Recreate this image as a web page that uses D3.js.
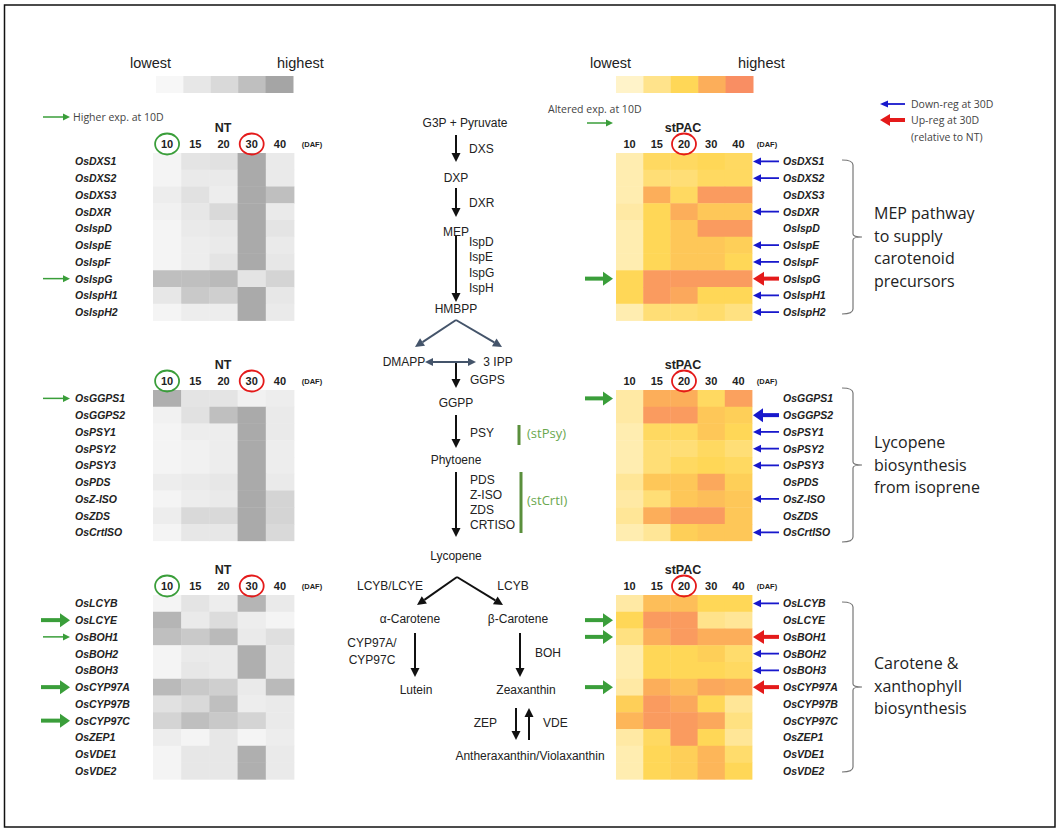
<!DOCTYPE html>
<html>
<head>
<meta charset="utf-8">
<script src="https://cdn.jsdelivr.net/npm/d3@7"></script>
<style>
  body { margin: 0; background: #fff; }
  text { font-family: "Liberation Sans", Arial, sans-serif; fill: #222; }
  .gene { font-size: 10.5px; font-weight: bold; font-style: italic; }
  .hdr { font-size: 11px; font-weight: bold; }
  .ttl { font-size: 12.5px; font-weight: bold; }
  .daf { font-size: 7.5px; font-weight: bold; }
  .note { font-family: "Open Sans", sans-serif; font-size: 10.5px; fill: #444; }
  .grp { font-family: "Open Sans", sans-serif; font-size: 16px; fill: #222; }
  .pw { font-size: 12px; }
  .leg { font-size: 14.5px; }
  .st { font-family: "Open Sans", sans-serif; font-size: 13px; fill: #6aa84f; }
</style>
</head>
<body>
<div id="fig"></div>
<script>
// ---- data ----
var daf = ["10", "15", "20", "30", "40"];
var legendLevels = [0, 0.25, 0.5, 0.75, 1];

var genesMEP = ["OsDXS1", "OsDXS2", "OsDXS3", "OsDXR", "OsIspD", "OsIspE", "OsIspF", "OsIspG", "OsIspH1", "OsIspH2"];
var genesLyc = ["OsGGPS1", "OsGGPS2", "OsPSY1", "OsPSY2", "OsPSY3", "OsPDS", "OsZ-ISO", "OsZDS", "OsCrtISO"];
var genesCar = ["OsLCYB", "OsLCYE", "OsBOH1", "OsBOH2", "OsBOH3", "OsCYP97A", "OsCYP97B", "OsCYP97C", "OsZEP1", "OsVDE1", "OsVDE2"];

// relative expression (0 lowest .. 1 highest), columns = 10,15,20,30,40 DAF
var ntMEP = [
  [0.05, 0.30, 0.35, 0.95, 0.20],
  [0.05, 0.20, 0.20, 0.95, 0.20],
  [0.15, 0.35, 0.15, 0.95, 0.75],
  [0.10, 0.25, 0.50, 0.95, 0.20],
  [0.05, 0.20, 0.25, 0.95, 0.30],
  [0.05, 0.15, 0.20, 0.95, 0.20],
  [0.05, 0.15, 0.30, 0.95, 0.25],
  [0.75, 0.75, 0.80, 0.30, 0.55],
  [0.25, 0.65, 0.60, 0.95, 0.25],
  [0.05, 0.15, 0.15, 0.95, 0.20]
];
var ntLyc = [
  [0.90, 0.30, 0.30, 0.10, 0.15],
  [0.10, 0.35, 0.75, 0.95, 0.20],
  [0.05, 0.15, 0.15, 0.95, 0.20],
  [0.05, 0.10, 0.15, 0.95, 0.15],
  [0.05, 0.10, 0.15, 0.95, 0.15],
  [0.15, 0.20, 0.25, 0.95, 0.20],
  [0.05, 0.15, 0.20, 0.95, 0.55],
  [0.15, 0.50, 0.50, 0.95, 0.55],
  [0.05, 0.25, 0.25, 0.95, 0.50]
];
var ntCar = [
  [0.05, 0.30, 0.15, 0.85, 0.20],
  [0.85, 0.20, 0.45, 0.15, 0.05],
  [0.75, 0.65, 0.80, 0.20, 0.40],
  [0.05, 0.20, 0.20, 0.90, 0.25],
  [0.05, 0.25, 0.20, 0.90, 0.25],
  [0.80, 0.65, 0.60, 0.20, 0.80],
  [0.35, 0.50, 0.75, 0.15, 0.20],
  [0.55, 0.75, 0.65, 0.55, 0.20],
  [0.15, 0.05, 0.25, 0.05, 0.15],
  [0.05, 0.25, 0.25, 0.90, 0.20],
  [0.05, 0.25, 0.25, 0.90, 0.20]
];
var stMEP = [
  [0.10, 0.45, 0.45, 0.50, 0.45],
  [0.10, 0.35, 0.35, 0.45, 0.45],
  [0.10, 0.75, 0.45, 0.90, 0.90],
  [0.15, 0.50, 0.75, 0.60, 0.60],
  [0.10, 0.50, 0.60, 0.90, 0.90],
  [0.10, 0.50, 0.60, 0.60, 0.55],
  [0.10, 0.50, 0.60, 0.60, 0.50],
  [0.50, 0.90, 0.90, 0.90, 0.90],
  [0.50, 0.90, 0.80, 0.50, 0.50],
  [0.10, 0.35, 0.35, 0.40, 0.30]
];
var stLyc = [
  [0.15, 0.75, 0.75, 0.45, 0.85],
  [0.15, 0.90, 0.90, 0.60, 0.55],
  [0.10, 0.45, 0.45, 0.60, 0.50],
  [0.10, 0.35, 0.35, 0.45, 0.35],
  [0.10, 0.35, 0.45, 0.50, 0.45],
  [0.20, 0.60, 0.60, 0.80, 0.55],
  [0.15, 0.35, 0.60, 0.65, 0.60],
  [0.20, 0.75, 0.90, 0.90, 0.60],
  [0.10, 0.20, 0.55, 0.60, 0.60]
];
var stCar = [
  [0.15, 0.65, 0.65, 0.50, 0.50],
  [0.50, 0.90, 0.90, 0.25, 0.20],
  [0.30, 0.75, 0.90, 0.75, 0.75],
  [0.10, 0.50, 0.50, 0.55, 0.40],
  [0.10, 0.50, 0.50, 0.50, 0.45],
  [0.15, 0.75, 0.65, 0.80, 0.75],
  [0.55, 0.90, 0.80, 0.50, 0.20],
  [0.70, 0.90, 0.90, 0.80, 0.30],
  [0.15, 0.45, 0.90, 0.50, 0.20],
  [0.10, 0.50, 0.55, 0.70, 0.40],
  [0.10, 0.50, 0.55, 0.70, 0.50]
];

// arrows: d = down-reg (blue), D = strongly down, u = up-reg (red); g / G = green thin / thick
var regMEP = ["d", "d", "", "d", "", "d", "d", "u", "d", "d"];
var regLyc = ["", "D", "d", "d", "d", "", "d", "", "d"];
var regCar = ["d", "", "u", "d", "d", "u", "", "", "", "", ""];
var grnNtMEP = ["", "", "", "", "", "", "", "g", "", ""];
var grnNtLyc = ["g", "", "", "", "", "", "", "", ""];
var grnNtCar = ["", "G", "g", "", "", "G", "", "G", "", "", ""];
var grnStMEP = ["", "", "", "", "", "", "", "G", "", ""];
var grnStLyc = ["G", "", "", "", "", "", "", "", ""];
var grnStCar = ["", "G", "G", "", "", "G", "", "", "", "", ""];

var groupText = [
  ["MEP pathway", "to supply", "carotenoid", "precursors"],
  ["Lycopene", "biosynthesis", "from isoprene"],
  ["Carotene &", "xanthophyll", "biosynthesis"]
];

// ---- layout ----
var W = 1060, H = 830, rowH = 16.75;
var blockTop = [153, 390, 595];
var bracket = [[160, 314, 237], [388, 542, 465], [602, 772, 687]];
var textTop = [213, 442, 663];

var blocks = [
  { genes: genesMEP, nt: ntMEP, st: stMEP, reg: regMEP, gNt: grnNtMEP, gSt: grnStMEP },
  { genes: genesLyc, nt: ntLyc, st: stLyc, reg: regLyc, gNt: grnNtLyc, gSt: grnStLyc },
  { genes: genesCar, nt: ntCar, st: stCar, reg: regCar, gNt: grnNtCar, gSt: grnStCar }
];

var grayColor = d3.scaleLinear().domain(legendLevels)
  .range(["#f7f7f7", "#e7e7e7", "#d9d9d9", "#bfbfbf", "#a5a5a5"]);
var warmColor = d3.scaleLinear().domain(legendLevels)
  .range(["#fff3c9", "#ffe38b", "#ffd757", "#fcae5a", "#f98e63"]);

var xL = d3.scaleBand().domain(daf).range([153, 294]);
var xR = d3.scaleBand().domain(daf).range([616, 752]);

var GREEN = "#3a9e3a", BLUE = "#1818cc", RED = "#e41a1a";

var svg = d3.select("#fig").append("svg").attr("width", W).attr("height", H);
svg.append("rect").attr("x", 4.5).attr("y", 5).attr("width", 1050.5).attr("height", 822)
  .attr("fill", "none").attr("stroke", "#111").attr("stroke-width", 1.5);

function arrow(g, x1, y1, x2, y2, col, w, hl, hw, both) {
  var dx = x2 - x1, dy = y2 - y1, L = Math.hypot(dx, dy), ux = dx / L, uy = dy / L;
  var bx = x2 - ux * hl, by = y2 - uy * hl;
  var sx = both ? x1 + ux * hl : x1, sy = both ? y1 + uy * hl : y1;
  g.append("line").attr("x1", sx).attr("y1", sy).attr("x2", bx).attr("y2", by)
    .attr("stroke", col).attr("stroke-width", w);
  head(x2, y2, bx, by);
  if (both) head(x1, y1, sx, sy);
  function head(tx, ty, px, py) {
    g.append("path")
      .attr("d", "M" + tx + "," + ty + "L" + (px - uy * hw) + "," + (py + ux * hw) +
        "L" + (px + uy * hw) + "," + (py - ux * hw) + "Z")
      .attr("fill", col);
  }
}

// ---- legends ----
function colorLegend(x0, x1, col, lowX, highX) {
  var lx = d3.scaleBand().domain(legendLevels).range([x0, x1]);
  svg.selectAll(null).data(legendLevels).enter().append("rect")
    .attr("x", function (d) { return lx(d); }).attr("y", 76)
    .attr("width", lx.bandwidth() + 0.5).attr("height", 17)
    .attr("fill", function (d) { return col(d); });
  svg.append("text").attr("class", "leg").attr("x", lowX).attr("y", 68).text("lowest");
  svg.append("text").attr("class", "leg").attr("x", highX).attr("y", 68).text("highest");
}
colorLegend(156, 293, grayColor, 130, 277);
colorLegend(616, 753, warmColor, 590, 738);

arrow(svg, 43, 117, 70, 117, GREEN, 1.5, 7, 3.5);
svg.append("text").attr("class", "note").attr("x", 73).attr("y", 121).text("Higher exp. at 10D");
svg.append("text").attr("class", "note").attr("x", 548).attr("y", 113).text("Altered exp. at 10D");
arrow(svg, 587, 123, 613, 123, GREEN, 1.5, 7, 3.5);

arrow(svg, 905, 104, 880, 104, BLUE, 1.8, 8, 3.5);
arrow(svg, 905, 120, 880, 120, RED, 4, 10, 6);
svg.append("text").attr("class", "note").attr("x", 911).attr("y", 108).text("Down-reg at 30D");
svg.append("text").attr("class", "note").attr("x", 911).attr("y", 124).text("Up-reg at 30D");
svg.append("text").attr("class", "note").attr("x", 911).attr("y", 141).text("(relative to NT)");

// ---- heatmaps ----
function heatmap(b, i, side) {
  var x = side === "L" ? xL : xR;
  var col = side === "L" ? grayColor : warmColor;
  var vals = side === "L" ? b.nt : b.st;
  var top = blockTop[i];
  var y = d3.scaleBand().domain(b.genes).range([top, top + b.genes.length * rowH]);
  var g = svg.append("g");

  var cells = [];
  vals.forEach(function (row, r) {
    row.forEach(function (v, c) { cells.push({ gene: b.genes[r], day: daf[c], v: v }); });
  });
  g.selectAll("rect").data(cells).enter().append("rect")
    .attr("x", function (d) { return x(d.day); })
    .attr("y", function (d) { return y(d.gene); })
    .attr("width", x.bandwidth() + 0.4).attr("height", y.bandwidth() + 0.4)
    .attr("fill", function (d) { return col(d.v); });

  // headers
  var hy = top - 9;
  g.append("text").attr("class", "ttl").attr("text-anchor", "middle")
    .attr("x", side === "L" ? 223 : 683).attr("y", top - 21)
    .text(side === "L" ? "NT" : "stPAC");
  g.selectAll("text.hdr").data(daf).enter().append("text").attr("class", "hdr")
    .attr("text-anchor", "middle")
    .attr("x", function (d) { return x(d) + x.bandwidth() / 2; })
    .attr("y", hy + 4).text(function (d) { return d; });
  g.append("text").attr("class", "daf").attr("text-anchor", "middle")
    .attr("x", side === "L" ? 312 : 767).attr("y", hy + 3).text("(DAF)");
  var circ = side === "L" ? [["10", GREEN], ["30", RED]] : [["20", RED]];
  circ.forEach(function (c) {
    g.append("ellipse").attr("cx", x(c[0]) + x.bandwidth() / 2).attr("cy", hy)
      .attr("rx", 12).attr("ry", 10.5).attr("fill", "none")
      .attr("stroke", c[1]).attr("stroke-width", 1.8);
  });

  // gene labels
  g.selectAll("text.gene").data(b.genes).enter().append("text").attr("class", "gene")
    .attr("x", side === "L" ? 75 : 783)
    .attr("y", function (d) { return y(d) + y.bandwidth() / 2 + 4; })
    .text(function (d) { return d; });

  // green arrows
  var gr = side === "L" ? b.gNt : b.gSt;
  var gx = side === "L" ? [43, 70] : [587, 613];
  gr.forEach(function (t, r) {
    if (!t) return;
    var cy = y(b.genes[r]) + y.bandwidth() / 2;
    if (t === "g") arrow(g, gx[0], cy, gx[1], cy, GREEN, 1.5, 7, 3.5);
    else arrow(g, gx[0] - 2, cy, gx[1], cy, GREEN, 4, 10, 7);
  });

  if (side === "R") {
    b.reg.forEach(function (t, r) {
      if (!t) return;
      var cy = y(b.genes[r]) + y.bandwidth() / 2;
      if (t === "d") arrow(g, 779, cy, 753, cy, BLUE, 1.8, 8, 3.8);
      else if (t === "D") arrow(g, 779, cy, 753, cy, BLUE, 4, 10, 7);
      else arrow(g, 779, cy, 753, cy, RED, 4, 11, 7);
    });
    // bracket
    var bk = bracket[i];
    g.append("path")
      .attr("d", "M842," + bk[0] + "Q853," + bk[0] + " 853," + (bk[0] + 5) +
        "L853," + (bk[2] - 3) + "Q853," + bk[2] + " 862," + bk[2] +
        "Q853," + bk[2] + " 853," + (bk[2] + 3) +
        "L853," + (bk[1] - 5) + "Q853," + bk[1] + " 842," + bk[1])
      .attr("fill", "none").attr("stroke", "#777").attr("stroke-width", 1.2);
    groupText[i].forEach(function (s, k) {
      g.append("text").attr("class", "grp").attr("x", 874)
        .attr("y", textTop[i] + k * 22.6 + 6).text(s);
    });
  }
}
blocks.forEach(function (b, i) { heatmap(b, i, "L"); heatmap(b, i, "R"); });

// ---- pathway diagram ----
var pg = svg.append("g");
var K = "#111", SL = "#44546a";
var nodes = [
  ["G3P + Pyruvate", 465, 123], ["DXP", 456, 178], ["MEP", 456, 232], ["HMBPP", 456, 309],
  ["DMAPP", 404, 362], ["3 IPP", 498, 362], ["GGPP", 456, 403], ["Phytoene", 456, 460],
  ["Lycopene", 456, 556], ["\u03b1-Carotene", 410, 619], ["\u03b2-Carotene", 518, 619],
  ["Lutein", 416, 690], ["Zeaxanthin", 526, 690], ["Antheraxanthin/Violaxanthin", 530, 756],
  ["LCYB/LCYE", 390, 586], ["LCYB", 513, 586], ["CYP97A/", 372, 643], ["CYP97C", 372, 660]
];
nodes.forEach(function (n) {
  pg.append("text").attr("class", "pw").attr("text-anchor", "middle")
    .attr("x", n[1]).attr("y", n[2] + 4).text(n[0]);
});
var enz = [
  ["DXS", 469, 149], ["DXR", 469, 203], ["IspD", 469, 242], ["IspE", 469, 257], ["IspG", 469, 273],
  ["IspH", 469, 288], ["GGPS", 470, 380], ["PSY", 470, 433], ["PDS", 470, 480], ["Z-ISO", 470, 495],
  ["ZDS", 470, 510], ["CRTISO", 470, 525], ["BOH", 535, 653], ["VDE", 543, 723]
];
enz.forEach(function (n) {
  pg.append("text").attr("class", "pw").attr("x", n[1]).attr("y", n[2] + 4).text(n[0]);
});
pg.append("text").attr("class", "pw").attr("text-anchor", "end").attr("x", 497).attr("y", 727).text("ZEP");

arrow(pg, 456, 135, 456, 162, K, 2, 9, 4.5);
arrow(pg, 456, 188, 456, 217, K, 2, 9, 4.5);
arrow(pg, 456, 236, 456, 302, K, 2, 9, 4.5);
arrow(pg, 456, 320, 415, 347, SL, 2, 9, 4.5);
arrow(pg, 456, 320, 502, 347, SL, 2, 9, 4.5);
arrow(pg, 425, 362, 476, 362, SL, 2, 8, 4, true);
arrow(pg, 456, 363, 456, 388, K, 2, 9, 4.5);
arrow(pg, 456, 415, 456, 448, K, 2, 9, 4.5);
arrow(pg, 456, 472, 456, 537, K, 2, 9, 4.5);
arrow(pg, 457, 577, 417, 605, K, 2, 9, 4.5);
arrow(pg, 457, 577, 503, 605, K, 2, 9, 4.5);
arrow(pg, 415, 633, 415, 677, K, 2, 9, 4.5);
arrow(pg, 520, 633, 520, 677, K, 2, 9, 4.5);
arrow(pg, 516, 708, 516, 740, K, 2, 9, 4.5);
arrow(pg, 529, 740, 529, 708, K, 2, 9, 4.5);

pg.append("line").attr("x1", 519).attr("x2", 519).attr("y1", 425).attr("y2", 445)
  .attr("stroke", "#5a8f3c").attr("stroke-width", 3);
pg.append("line").attr("x1", 521).attr("x2", 521).attr("y1", 472).attr("y2", 533)
  .attr("stroke", "#5a8f3c").attr("stroke-width", 3);
pg.append("text").attr("class", "st").attr("x", 527).attr("y", 438).text("(stPsy)");
pg.append("text").attr("class", "st").attr("x", 527).attr("y", 505).text("(stCrtI)");
</script>
</body>
</html>
